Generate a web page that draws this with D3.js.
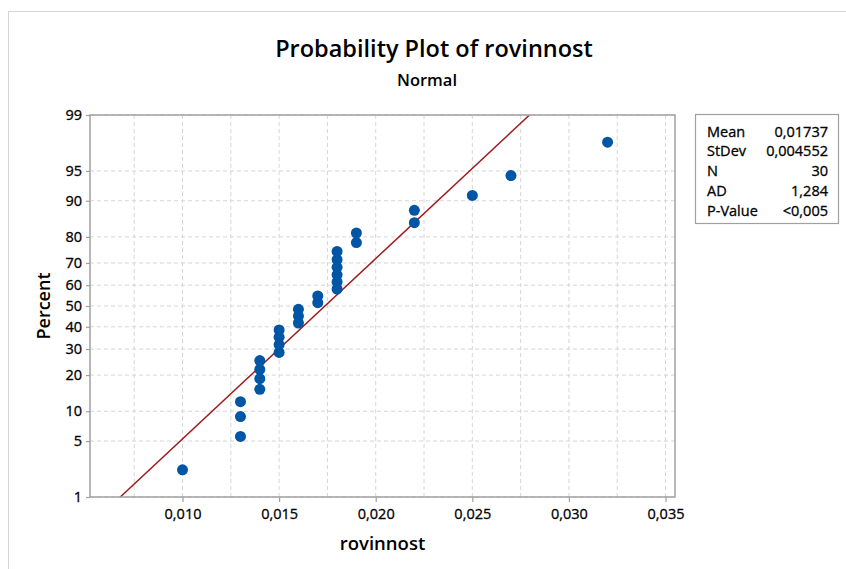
<!DOCTYPE html>
<html>
<head>
<meta charset="utf-8">
<script src="https://cdn.jsdelivr.net/npm/d3@7"></script>
<style>
  body { margin: 0; background: #fff; }
  text { font-family: "Open Sans", "Noto Sans", sans-serif; fill: #000; }
  .reg { stroke: #000; stroke-width: 0.3px; }
</style>
</head>
<body>
<div id="chart"></div>
<script>
// rovinnost values (sorted) and their plotting percents (median ranks)
const values = [0.010, 0.013, 0.013, 0.013, 0.014, 0.014, 0.014, 0.014,
    0.015, 0.015, 0.015, 0.015, 0.016, 0.016, 0.016, 0.017, 0.017,
    0.018, 0.018, 0.018, 0.018, 0.018, 0.018, 0.019, 0.019,
    0.022, 0.022, 0.025, 0.027, 0.032];
const percents = [2.3, 5.6, 8.9, 12.2, 15.5, 18.8, 22.0, 25.3,
    28.6, 31.9, 35.2, 38.5, 41.8, 45.1, 48.4, 51.6, 54.9,
    58.2, 61.5, 64.8, 68.1, 71.4, 74.7, 78.0, 81.3,
    84.5, 87.8, 91.1, 94.4, 97.7];

const xTicks = [0.010, 0.015, 0.020, 0.025, 0.030, 0.035];
const xGrid = [0.0075, 0.010, 0.0125, 0.015, 0.0175, 0.020, 0.0225, 0.025, 0.0275, 0.030, 0.0325, 0.035];
const yTicks = [1, 5, 10, 20, 30, 40, 50, 60, 70, 80, 90, 95, 99];

const statLabels = ["Mean", "StDev", "N", "AD", "P-Value"];
const statValues = ["0,01737", "0,004552", "30", "1,284", "<0,005"];
const mean = 0.01737, stdev = 0.004552;

// inverse normal cdf (Acklam)
function probit(p) {
    const a = [-3.969683028665376e+01, 2.209460984245205e+02, -2.759285104469687e+02, 1.383577518672690e+02, -3.066479806614716e+01, 2.506628277459239e+00];
    const b = [-5.447609879822406e+01, 1.615858368580409e+02, -1.556989798598866e+02, 6.680131188771972e+01, -1.328068155288572e+01];
    const c = [-7.784894002430293e-03, -3.223964580411365e-01, -2.400758277161838e+00, -2.549732539343734e+00, 4.374664141464968e+00, 2.938163982698783e+00];
    const d = [7.784695709041462e-03, 3.224671290700398e-01, 2.445134137142996e+00, 3.754408661907416e+00];
    const pl = 0.02425;
    let q, r;
    if (p < pl) {
        q = Math.sqrt(-2 * Math.log(p));
        return (((((c[0]*q+c[1])*q+c[2])*q+c[3])*q+c[4])*q+c[5]) / ((((d[0]*q+d[1])*q+d[2])*q+d[3])*q+1);
    } else if (p <= 1 - pl) {
        q = p - 0.5; r = q * q;
        return (((((a[0]*r+a[1])*r+a[2])*r+a[3])*r+a[4])*r+a[5])*q / (((((b[0]*r+b[1])*r+b[2])*r+b[3])*r+b[4])*r+1);
    }
    q = Math.sqrt(-2 * Math.log(1 - p));
    return -(((((c[0]*q+c[1])*q+c[2])*q+c[3])*q+c[4])*q+c[5]) / ((((d[0]*q+d[1])*q+d[2])*q+d[3])*q+1);
}

const W = 846, H = 569;
const plot = { left: 90, right: 675, top: 115, bottom: 497 };

const svg = d3.select("#chart").append("svg")
    .attr("width", W)
    .attr("height", H);

// outer figure border
svg.append("rect")
    .attr("x", 8.5).attr("y", 11.5)
    .attr("width", W).attr("height", H)
    .attr("fill", "none")
    .attr("stroke", "#d4d4d4")
    .attr("stroke-width", 1);

const x = d3.scaleLinear()
    .domain([0.005212, 0.03549])
    .range([plot.left, plot.right]);
const y = d3.scaleLinear()
    .domain([probit(0.01), probit(0.99)])
    .range([plot.bottom, plot.top]);

// grid
svg.append("g").selectAll("line")
    .data(xGrid)
    .join("line")
    .attr("x1", d => x(d)).attr("x2", d => x(d))
    .attr("y1", plot.top).attr("y2", plot.bottom)
    .attr("stroke", "#d6d6d6")
    .attr("stroke-dasharray", "4,3");
svg.append("g").selectAll("line")
    .data(yTicks)
    .join("line")
    .attr("x1", plot.left).attr("x2", plot.right)
    .attr("y1", d => y(probit(d / 100))).attr("y2", d => y(probit(d / 100)))
    .attr("stroke", "#d6d6d6")
    .attr("stroke-dasharray", "4,3");

// fitted line
svg.append("clipPath").attr("id", "clip")
    .append("rect")
    .attr("x", plot.left).attr("y", plot.top)
    .attr("width", plot.right - plot.left).attr("height", plot.bottom - plot.top);
const zEnds = y.domain();
svg.append("line")
    .attr("clip-path", "url(#clip)")
    .attr("x1", x(mean + stdev * zEnds[0])).attr("y1", y(zEnds[0]))
    .attr("x2", x(mean + stdev * zEnds[1])).attr("y2", y(zEnds[1]))
    .attr("stroke", "#9e1a1e")
    .attr("stroke-width", 1.5);

// points
svg.append("g").selectAll("circle")
    .data(values)
    .join("circle")
    .attr("cx", d => x(d))
    .attr("cy", (d, i) => y(probit(percents[i] / 100)))
    .attr("r", 5.5)
    .attr("fill", "#0055a5");

// frame
svg.append("rect")
    .attr("x", plot.left).attr("y", plot.top)
    .attr("width", plot.right - plot.left).attr("height", plot.bottom - plot.top)
    .attr("fill", "none")
    .attr("stroke", "#a0a0a0")
    .attr("stroke-width", 1.5);

// axes
const fmt = d => d3.format(".3f")(d).replace(".", ",");
const xAxis = svg.append("g")
    .attr("transform", `translate(0,${plot.bottom})`)
    .call(d3.axisBottom(x).tickValues(xTicks).tickFormat(fmt).tickSize(5).tickPadding(7));
const yAxis = svg.append("g")
    .attr("transform", `translate(${plot.left},0)`)
    .call(d3.axisLeft(d3.scaleLinear().domain(y.domain()).range(y.range()))
        .tickValues(yTicks.map(d => probit(d / 100)))
        .tickFormat((d, i) => yTicks[i]).tickSize(4).tickPadding(4));
[xAxis, yAxis].forEach(g => {
    g.select(".domain").remove();
    g.selectAll(".tick line").attr("stroke", "#a0a0a0").attr("stroke-width", 1.2);
    g.selectAll(".tick text").attr("class", "reg").style("font-size", "14.5px").attr("fill", "#000");
});

// titles
svg.append("text")
    .attr("x", 434).attr("y", 57)
    .attr("text-anchor", "middle")
    .style("font-size", "23.5px").style("font-weight", 600)
    .text("Probability Plot of rovinnost");
svg.append("text")
    .attr("x", 427).attr("y", 86)
    .attr("text-anchor", "middle")
    .style("font-size", "16.5px").style("font-weight", 600)
    .text("Normal");
svg.append("text")
    .attr("x", (plot.left + plot.right) / 2).attr("y", 550)
    .attr("text-anchor", "middle")
    .style("font-size", "18.5px").style("font-weight", 600)
    .text("rovinnost");
svg.append("text")
    .attr("transform", `translate(50,${(plot.top + plot.bottom) / 2}) rotate(-90)`)
    .attr("text-anchor", "middle")
    .style("font-size", "18px").style("font-weight", 600)
    .text("Percent");

// stats box
const box = svg.append("g");
box.append("rect")
    .attr("x", 695.5).attr("y", 114.5)
    .attr("width", 143).attr("height", 109)
    .attr("fill", "#fff")
    .attr("stroke", "#a0a0a0")
    .attr("stroke-width", 1.2);
statLabels.forEach((lab, i) => {
    box.append("text")
        .attr("class", "reg")
        .attr("x", 707).attr("y", 136.5 + i * 19.8)
        .style("font-size", "14.5px")
        .text(lab);
    box.append("text")
        .attr("class", "reg")
        .attr("x", 828).attr("y", 136.5 + i * 19.8)
        .attr("text-anchor", "end")
        .style("font-size", "14.5px")
        .text(statValues[i]);
});
</script>
</body>
</html>
